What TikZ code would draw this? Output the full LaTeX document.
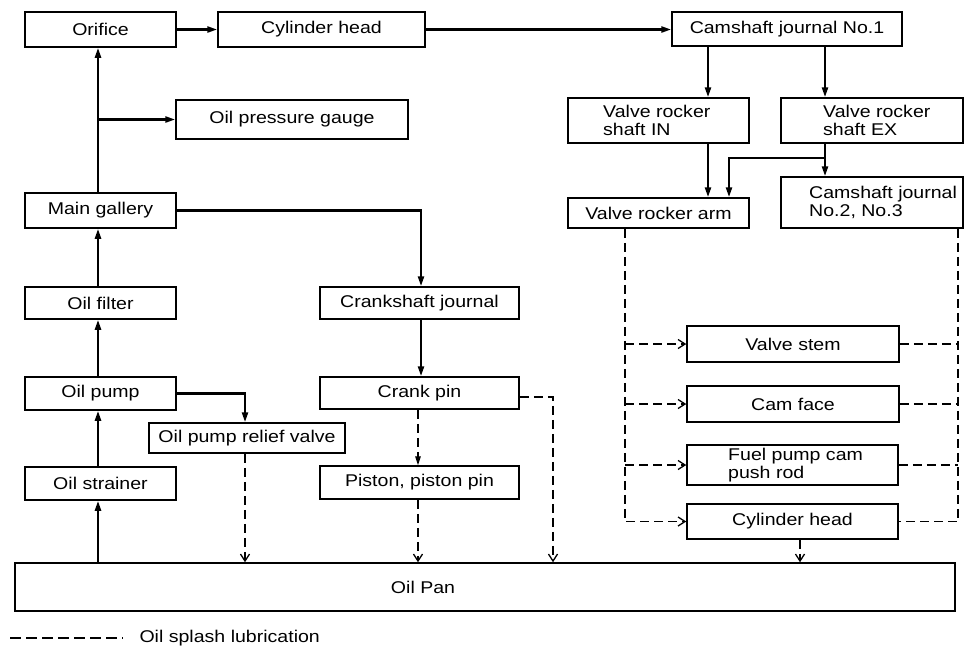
\documentclass[tikz,border=0pt]{standalone}
\usepackage{fontspec}
\setmainfont{Liberation Sans}[FakeStretch=1.15]
\usetikzlibrary{arrows.meta}
\begin{document}
\begin{tikzpicture}[x=1pt,y=-1pt,
  font=\fontsize{17}{18.5}\selectfont,
  box/.style={draw, line width=1.5pt, inner sep=0pt, align=center},
  txt/.style={anchor=west, align=left, inner sep=0pt},
  arr/.style={line width=2.3pt, -{Triangle[length=10pt,width=6pt]}},
  dline/.style={line width=1.3pt, dash pattern=on 9pt off 5pt},
  darr/.style={dline, -{Straight Barb[length=7pt,width=9pt,line width=1.3pt]}},
]
\useasboundingbox (0,0) rectangle (968,649);

% boxes
\node[box, minimum width=151pt, minimum height=35pt] (orifice) at (100.5,29.5) {Orifice};
\node[box, minimum width=207pt, minimum height=35pt] (cylhead) at (321.5,29.5) {Cylinder head};
\node[box, minimum width=230pt, minimum height=34pt] (cam1) at (787,29) {Camshaft journal No.1};
\node[box, minimum width=232pt, minimum height=39pt] (gauge) at (292,119.5) {Oil pressure gauge};
\node[box, minimum width=181pt, minimum height=45pt] (vrsin) at (658.5,120.5) {};
\node[txt] (vrsint) at (603,120.5) {Valve rocker\\shaft IN};
\node[box, minimum width=182pt, minimum height=45pt] (vrsex) at (872,120.5) {};
\node[txt] (vrsext) at (823,120.5) {Valve rocker\\shaft EX};
\node[box, minimum width=151pt, minimum height=35pt] (gallery) at (100.5,210.5) {Main gallery};
\node[box, minimum width=181pt, minimum height=30pt] (arm) at (658.5,213) {Valve rocker arm};
\node[box, minimum width=182pt, minimum height=51pt] (cj2) at (872,202.5) {};
\node[txt] (cj2t) at (809,202.5) {Camshaft journal\\No.2, No.3};
\node[box, minimum width=151pt, minimum height=32pt] (filter) at (100.5,303) {Oil filter};
\node[box, minimum width=199pt, minimum height=32pt] (crankj) at (419.5,303) {Crankshaft journal};
\node[box, minimum width=212pt, minimum height=36pt] (stem) at (793,344) {Valve stem};
\node[box, minimum width=151pt, minimum height=33pt] (pump) at (100.5,393.5) {Oil pump};
\node[box, minimum width=199pt, minimum height=32pt] (crankpin) at (419.5,393) {Crank pin};
\node[box, minimum width=212pt, minimum height=36pt] (camface) at (793,404) {Cam face};
\node[box, minimum width=196pt, minimum height=30pt] (relief) at (247,438) {Oil pump relief valve};
\node[box, minimum width=211pt, minimum height=40pt] (fuelcam) at (792.5,465) {};
\node[txt] (fuelcamt) at (728,465) {Fuel pump cam\\push rod};
\node[box, minimum width=151pt, minimum height=33pt] (strainer) at (100.5,483.5) {Oil strainer};
\node[box, minimum width=199pt, minimum height=33pt] (piston) at (419.5,482.5) {Piston, piston pin};
\node[box, minimum width=211pt, minimum height=35pt] (cylhead2) at (792.5,521.5) {Cylinder head};
\node[box, minimum width=940pt, minimum height=48pt] (pan) at (485,587) {};
\node (pant) at (423,587) {Oil Pan};

% guide coordinates
\coordinate (xL) at (98,0);
\coordinate (xIN) at (708,0);
\coordinate (xEX) at (825,0);
\coordinate (xB) at (729,0);
\coordinate (yB) at (0,158);
\coordinate (xC) at (421,0);
\coordinate (xCd) at (418,0);
\coordinate (xR) at (245,0);
\coordinate (xP) at (553,0);
\coordinate (xDL) at (625,0);
\coordinate (xDR) at (958,0);
\coordinate (xH) at (800,0);
\coordinate (yCp) at (0,397);

% solid connectors
\draw[arr] (xL |- gallery.north) -- (xL |- orifice.south);
\draw[arr] (xL |- gauge.west) -- (gauge.west);
\draw[arr] (orifice.east) -- (cylhead.west);
\draw[arr] (cylhead.east) -- (cylhead.east -| cam1.west);
\draw[arr] (xIN |- cam1.south) -- (xIN |- vrsin.north);
\draw[arr] (xEX |- cam1.south) -- (xEX |- vrsex.north);
\draw[arr] (xIN |- vrsin.south) -- (xIN |- arm.north);
\draw[arr] (xEX |- vrsex.south) -- (xEX |- cj2.north);
\draw[arr] (xEX |- yB) -| (xB |- arm.north);
\draw[arr] (gallery.east) -| (xC |- crankj.north);
\draw[arr] (xC |- crankj.south) -- (xC |- crankpin.north);
\draw[arr] (xL |- filter.north) -- (xL |- gallery.south);
\draw[arr] (xL |- pump.north) -- (xL |- filter.south);
\draw[arr] (xL |- strainer.north) -- (xL |- pump.south);
\draw[arr] (xL |- pan.north) -- (xL |- strainer.south);
\draw[arr] (pump.east) -| (xR |- relief.north);

% dashed (splash) connectors
\draw[darr] (xR |- relief.south) -- (xR |- pan.north);
\draw[dline, -{Triangle[length=9pt,width=5.5pt]}] (xCd |- crankpin.south) -- (xCd |- piston.north);
\draw[darr] (xCd |- piston.south) -- (xCd |- pan.north);
\draw[darr] (crankpin.east |- yCp) -| (xP |- pan.north);
\draw[darr] (xDL |- arm.south) |- (cylhead2.west);
\draw[darr] (xDL |- stem.west) -- (stem.west);
\draw[darr] (xDL |- camface.west) -- (camface.west);
\draw[darr] (xDL |- fuelcam.west) -- (fuelcam.west);
\draw[dline] (xDR |- cj2.south) |- (cylhead2.east);
\draw[dline] (stem.east) -- (xDR |- stem.east);
\draw[dline] (camface.east) -- (xDR |- camface.east);
\draw[dline] (fuelcam.east) -- (xDR |- fuelcam.east);
\draw[darr] (xH |- cylhead2.south) -- (xH |- pan.north);

% legend
\coordinate (lg1) at (10,638);
\coordinate (lg2) at (123,638);
\draw[dline, dash pattern=on 11pt off 5pt] (lg1) -- (lg2);
\node[anchor=west] (legend) at (136,638) {Oil splash lubrication};
\end{tikzpicture}
\end{document}
